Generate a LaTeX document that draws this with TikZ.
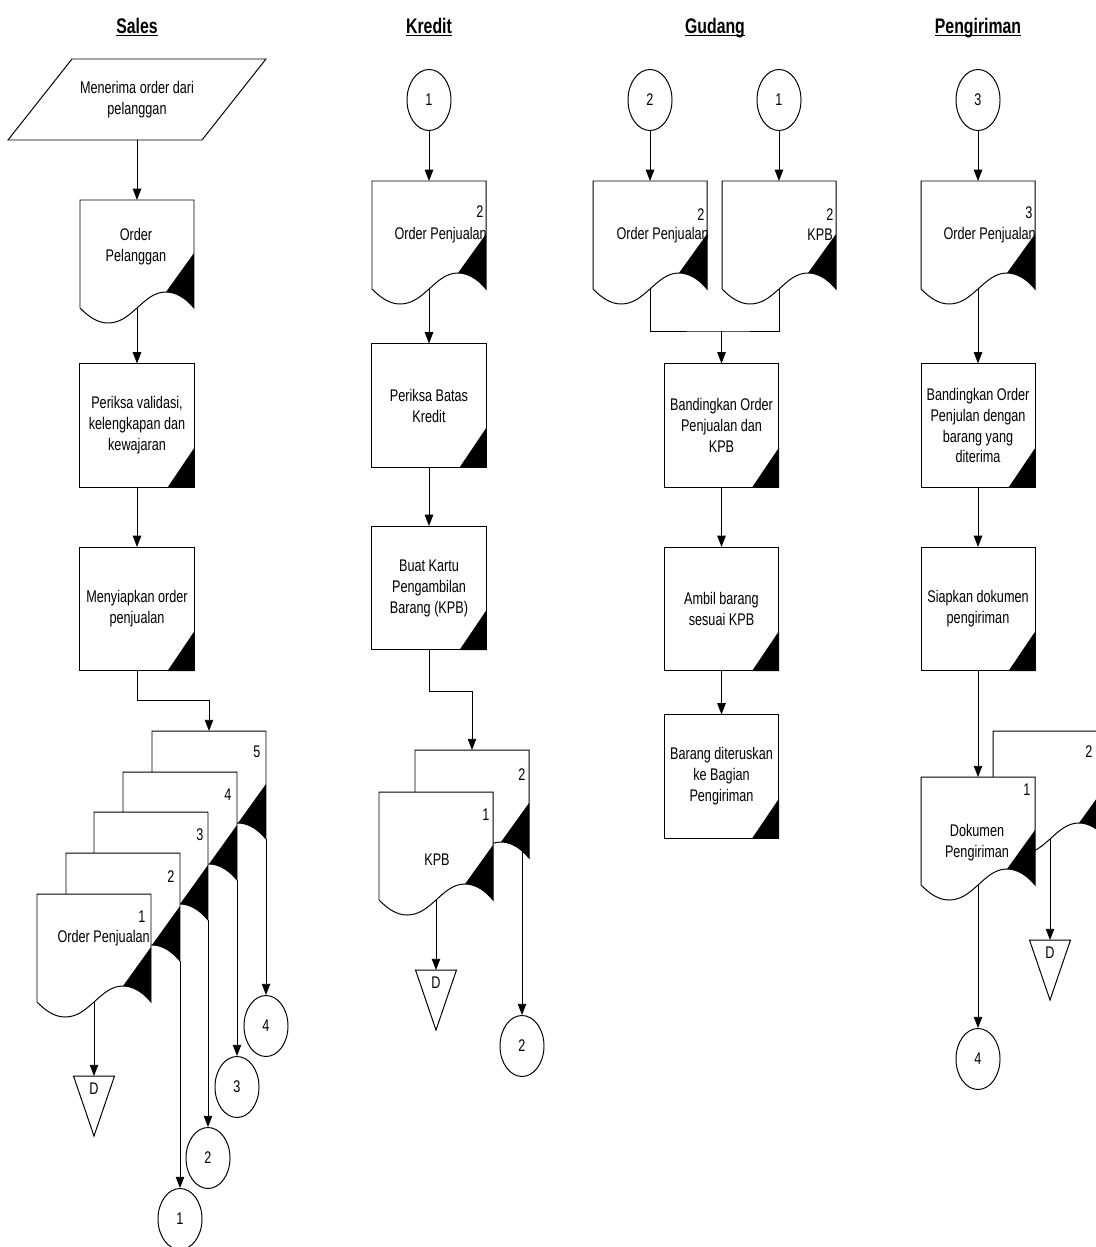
\documentclass[tikz,border=0pt]{standalone}
\usepackage{fontspec}
\setmainfont{Liberation Sans}[FakeStretch=0.75]
\usetikzlibrary{arrows.meta, shapes.geometric}

\newcommand\procmark[1]{\fill ([yshift=1cm]#1.south east) -- (#1.south east) -- ([xshift=-0.675cm]#1.south east) -- cycle;}
\newcommand\lanetitle[1]{\underline{\raisebox{0pt}[\height][0pt]{#1}}}

\tikzset{
  line/.style={line width=0.7pt},
  arr/.style={line width=0.7pt, -{Triangle[width=6pt,length=8pt]}},
  lane/.style={font=\fontsize{15pt}{18pt}\selectfont\bfseries},
  txt/.style={align=center, inner sep=0pt},
  proc/.style={draw, fill=white, line width=0.7pt, minimum width=2.85cm,
    minimum height=3.075cm, inner sep=0pt, align=center},
  conn/.style={draw, ellipse, line width=0.7pt, minimum width=1.1cm,
    minimum height=1.525cm, inner sep=0pt},
  doc/.pic={
    \path[draw, fill=white, line width=0.7pt] (0,0) -- (114,0) -- (114,108)
      .. controls (105,97) and (95,92) .. (86,92)
      .. controls (74,92) and (66,100) .. (57,108)
      .. controls (48,116) and (40,123) .. (28,123)
      .. controls (17,123) and (8,116) .. (0,108) -- cycle;
    \begin{scope}
      \clip (0,0) -- (114,0) -- (114,108)
        .. controls (105,97) and (95,92) .. (86,92)
        .. controls (74,92) and (66,100) .. (57,108)
        .. controls (48,116) and (40,123) .. (28,123)
        .. controls (17,123) and (8,116) .. (0,108) -- cycle;
      \fill (114,53) -- (86,92) -- (86,140) -- (114,140) -- cycle;
    \end{scope}
    \coordinate (-top) at (57,0);
    \coordinate (-mid) at (57,108);
    \coordinate (-rb) at (114,108);
  },
  store/.pic={
    \draw[line width=0.7pt, fill=white] (-20.5,0) -- (20.5,0) -- (0,60) -- cycle;
    \node (-lbl) at (0,13) {D};
    \coordinate (-top) at (0,0);
  }
}

\begin{document}
\begin{tikzpicture}[x=0.025cm, y=-0.025cm, font=\fontsize{12pt}{14.9pt}\selectfont]
\useasboundingbox (0,0) rectangle (1096,1247);
\clip (0,0) rectangle (1096,1247);

% lanes
\node[lane] (h-sales) at (137,27) {\lanetitle{Sales}};
\node[lane] (h-kredit) at (429,27) {\lanetitle{Kredit}};
\node[lane] (h-gudang) at (715,27) {\lanetitle{Gudang}};
\node[lane] (h-kirim) at (978,27) {\lanetitle{Pengiriman}};

% Sales
\node[txt] (s-in) at (137,100) {Menerima order dari\\pelanggan};
\draw[line] (72,59) -- (266,59) -- (202,140) -- (8,140) -- cycle;
\coordinate (s-in-b) at (137,140);
\pic (s-op) at (80,200) {doc};
\node[txt] (s-op-t) at (136,247) {Order\\Pelanggan};
\node[proc] (s-b1) at (137,425.5) {Periksa validasi,\\kelengkapan dan\\kewajaran};
\procmark{s-b1}
\node[proc] (s-b2) at (137,609) {Menyiapkan order\\penjualan};
\procmark{s-b2}
\draw[arr] (s-in-b) -- (s-op-top);
\draw[arr] (s-op-mid) -- (s-b1);
\draw[arr] (s-b1) -- (s-b2);

\pic (s-o5) at (152,731) {doc};
\node (s-o5-n) at (257,752) {5};
\pic (s-o4) at (123,772) {doc};
\node (s-o4-n) at (228,795) {4};
\pic (s-o3) at (94,812) {doc};
\node (s-o3-n) at (200,835) {3};
\pic (s-o2) at (66,853) {doc};
\node (s-o2-n) at (171,877) {2};
\pic (s-o1) at (37,894) {doc};
\node (s-o1-n) at (142,917) {1};
\node[anchor=east, inner sep=0pt] (s-o1-t) at (150,938) {Order Penjualan};
\draw[arr] (s-b2.south) -- ++(0,29) -| (s-o5-top);

\pic (s-d) at (94,1076) {store};
\node[conn] (s-c1) at (180,1219) {1};
\node[conn] (s-c2) at (208,1158) {2};
\node[conn] (s-c3) at (237,1087) {3};
\node[conn] (s-c4) at (266,1026) {4};
\draw[arr] (s-o1-mid) -- (s-d-top);
\draw[arr] (s-o2-rb) -- (s-c1);
\draw[arr] (s-o3-rb) -- (s-c2);
\draw[arr] (s-o4-rb) -- (s-c3);
\draw[arr] (s-o5-rb) -- (s-c4);

% Kredit
\node[conn] (k-c1) at (429,100) {1};
\pic (k-op) at (372,181) {doc};
\node (k-op-n) at (480,212) {2};
\node[anchor=east, inner sep=0pt] (k-op-t) at (487,235) {Order Penjualan};
\node[proc] (k-b1) at (429,405.5) {Periksa Batas\\Kredit};
\procmark{k-b1}
\node[proc] (k-b2) at (429,588) {Buat Kartu\\Pengambilan\\Barang (KPB)};
\procmark{k-b2}
\draw[arr] (k-c1) -- (k-op-top);
\draw[arr] (k-op-mid) -- (k-b1);
\draw[arr] (k-b1) -- (k-b2);

\pic (k-o2) at (415,750) {doc};
\node (k-o2-n) at (522,775) {2};
\pic (k-o1) at (379,792) {doc};
\node (k-o1-n) at (486,815) {1};
\node (k-o1-t) at (437,860) {KPB};
\draw[arr] (k-b2.south) -- ++(0,41) -| (k-o2-top);

\pic (k-d) at (436,970) {store};
\node[conn] (k-c2) at (522,1046) {2};
\coordinate (k-o2-out) at (522,851);
\draw[arr] (k-o1-mid) -- (k-d-top);
\draw[arr] (k-o2-out) -- (k-c2);

% Gudang
\node[conn] (g-c2) at (650,100) {2};
\node[conn] (g-c1) at (779,100) {1};
\pic (g-op) at (593,181) {doc};
\node (g-op-n) at (701,215) {2};
\node[anchor=east, inner sep=0pt] (g-op-t) at (709,235) {Order Penjualan};
\pic (g-kpb) at (722,181) {doc};
\node (g-kpb-n) at (830,215) {2};
\node[anchor=east, inner sep=0pt] (g-kpb-t) at (833,235) {KPB};
\draw[arr] (g-c2) -- (g-op-top);
\draw[arr] (g-c1) -- (g-kpb-top);

\coordinate (g-j) at (721.5,331);
\node[proc] (g-b1) at (721.5,425.5) {Bandingkan Order\\Penjualan dan\\KPB};
\procmark{g-b1}
\node[proc] (g-b2) at (721.5,609) {Ambil barang\\sesuai KPB};
\procmark{g-b2}
\node[proc] (g-b3) at (721.5,776.5) {Barang diteruskan\\ke Bagian\\Pengiriman};
\procmark{g-b3}
\draw[line] (g-op-mid) |- (g-j) -| (g-kpb-mid);
\draw[arr] (g-j) -- (g-b1);
\draw[arr] (g-b1) -- (g-b2);
\draw[arr] (g-b2) -- (g-b3);

% Pengiriman
\node[conn] (p-c3) at (978,100) {3};
\pic (p-op) at (921,181) {doc};
\node (p-op-n) at (1029,213) {3};
\node[anchor=east, inner sep=0pt] (p-op-t) at (1036,235) {Order Penjualan};
\node[proc] (p-b1) at (978,425.5) {Bandingkan Order\\Penjulan dengan\\barang yang\\diterima};
\procmark{p-b1}
\node[proc] (p-b2) at (978,609) {Siapkan dokumen\\pengiriman};
\procmark{p-b2}
\draw[arr] (p-c3) -- (p-op-top);
\draw[arr] (p-op-mid) -- (p-b1);
\draw[arr] (p-b1) -- (p-b2);

\pic (p-o2) at (993,731) {doc};
\node (p-o2-n) at (1089,752) {2};
\pic (p-o1) at (921,777) {doc};
\node (p-o1-n) at (1027,790) {1};
\node[txt] (p-o1-t) at (977,843) {Dokumen\\Pengiriman};
\draw[arr] (p-b2) -- (p-o1-top);

\pic (p-d) at (1050,940) {store};
\node[conn] (p-c4) at (978,1059) {4};
\draw[arr] (p-o2-mid) -- (p-d-top);
\draw[arr] (p-o1-mid) -- (p-c4);
\end{tikzpicture}
\end{document}
